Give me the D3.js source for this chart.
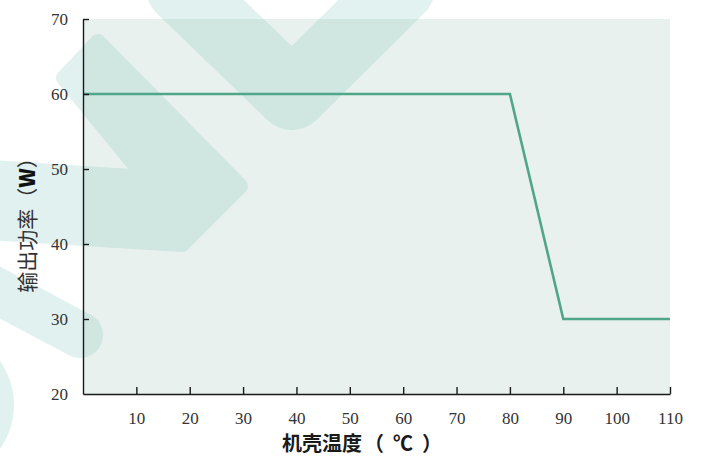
<!DOCTYPE html>
<html><head><meta charset="utf-8">
<script src="https://cdn.jsdelivr.net/npm/d3@7"></script>
<style>
html,body{margin:0;padding:0;background:#fff;}
svg{display:block;}
</style></head>
<body>
<svg id="chart" width="703" height="461"></svg>
<script>
// ---- data ----
const temps = [0, 80, 90, 110];          // 机壳温度 (℃)
const power = [60, 60, 30, 30];          // 输出功率 (W)
const xTicks = [10, 20, 30, 40, 50, 60, 70, 80, 90, 100, 110];
const yTicks = [20, 30, 40, 50, 60, 70];
const xTitleMain = "机壳温度";
const xTitleUnit = "（℃）";
const yTitleMain = "输出功率（";
const yTitleUnit = "W";
const yTitleEnd = "）";

const W = 703, H = 461;
const m = {left: 83, right: 33, top: 19, bottom: 67};
const svg = d3.select("#chart");

const x = d3.scaleLinear().domain([0, 110]).range([m.left, W - m.right]);
const y = d3.scaleLinear().domain([20, 70]).range([H - m.bottom, m.top]);

// plot background
svg.append("rect")
  .attr("x", x(0)).attr("y", y(70))
  .attr("width", x(110) - x(0)).attr("height", y(20) - y(70))
  .attr("fill", "#e8f1ed");

// faint logo watermark (decoration)
const wmColor = "rgb(110,188,182)";
const wm = svg.append("g").attr("opacity", 0.2)
  .attr("fill", "none").attr("stroke", wmColor)
  .attr("stroke-linecap", "round").attr("stroke-linejoin", "round");
wm.append("path").attr("d", "M181,-12 L292,95 L400,-12").attr("stroke-width", 70);
wm.append("path")
  .attr("d", "M98,42 L240,186 L182,244 L-10,232 L-10,168 L146,178 L64,78 Z")
  .attr("fill", wmColor).attr("stroke-width", 16);
wm.append("path").attr("d", "M-20,282 L80,335").attr("stroke-width", 46);
wm.append("circle").attr("cx", -62).attr("cy", 405).attr("r", 76)
  .attr("fill", wmColor).attr("stroke", "none");

// line
svg.append("path")
  .datum(temps.map((t, i) => [t, power[i]]))
  .attr("fill", "none")
  .attr("stroke", "#4fa688")
  .attr("stroke-width", 2.6)
  .attr("stroke-linejoin", "miter")
  .attr("d", d3.line().x(d => x(d[0])).y(d => y(d[1])));

// axes
const axisColor = "#1a1a1a";
const xAxis = svg.append("g")
  .attr("transform", `translate(0,${y(20)})`)
  .call(d3.axisBottom(x).tickValues(xTicks).tickSizeInner(-7).tickSizeOuter(0).tickPadding(18));
const yAxis = svg.append("g")
  .attr("transform", `translate(${x(0)},0)`)
  .call(d3.axisLeft(y).tickValues(yTicks).tickSizeInner(-6).tickSizeOuter(0).tickPadding(15));

[xAxis, yAxis].forEach(g => {
  g.select(".domain").attr("stroke", axisColor).attr("stroke-width", 1.4);
  g.selectAll(".tick line").attr("stroke", axisColor).attr("stroke-width", 1.4);
  g.selectAll(".tick text")
    .attr("fill", "#333")
    .style("font-family", "'Liberation Serif', 'DejaVu Serif', serif")
    .style("font-size", "17px");
});
yAxis.selectAll(".tick").filter(d => d === 20).select("line").remove();
yAxis.selectAll(".tick text").attr("dy", "0.34em");
xAxis.selectAll(".tick text").attr("dy", "0.68em");

// x title
const xt = svg.append("text")
  .attr("y", 451)
  .attr("fill", "#1a1a1a")
  .style("font-family", "'Noto Sans CJK SC', sans-serif")
  .style("font-size", "20px").style("font-weight", "700");
xt.append("tspan").attr("x", 282).text(xTitleMain);
xt.append("tspan").attr("x", 364).attr("textLength", 78).attr("lengthAdjust", "spacing").text(xTitleUnit);

// y title
const yt = svg.append("text")
  .attr("transform", "translate(35,220) rotate(-90)")
  .attr("text-anchor", "middle")
  .attr("fill", "#333")
  .style("font-family", "'Noto Sans CJK SC', sans-serif")
  .style("font-size", "21px");
yt.append("tspan").text(yTitleMain);
yt.append("tspan").style("font-weight", "900").attr("fill", "#111").text(yTitleUnit);
yt.append("tspan").text(yTitleEnd);
</script>
</body></html>
